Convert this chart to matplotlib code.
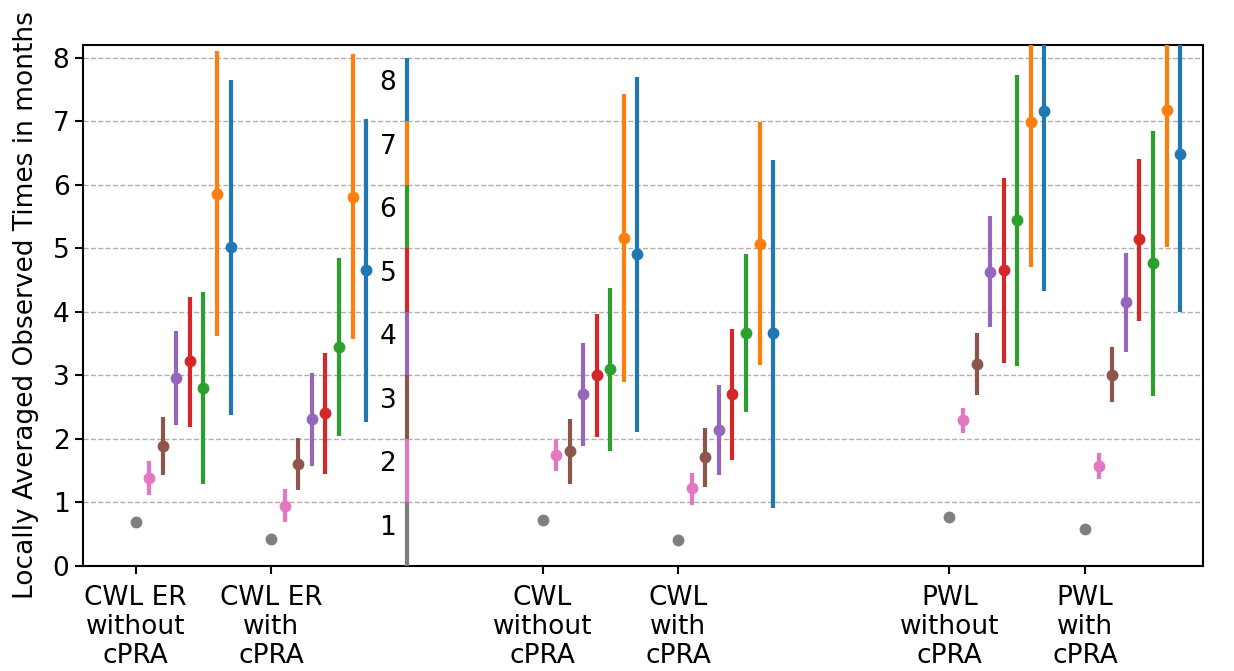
import matplotlib
matplotlib.use("Agg")
import matplotlib.pyplot as plt
import numpy as np

plt.rcParams['font.family'] = ['DejaVu Sans']

group_labels = ["CWL ER\nwithout\ncPRA", "CWL ER\nwith\ncPRA",
                "CWL\nwithout\ncPRA", "CWL\nwith\ncPRA",
                "PWL\nwithout\ncPRA", "PWL\nwith\ncPRA"]
group_pos = [0, 1, 3, 4, 6, 7]
legend_pos = 2
legend_labels = ["1", "2", "3", "4", "5", "6", "7", "8"]
colors = ["tab:gray", "tab:pink", "tab:brown", "tab:purple",
          "tab:red", "tab:green", "tab:orange", "tab:blue"]

# rows = groups, columns = series 1..8
centers = [
    [0.68, 1.38, 1.89, 2.96, 3.22, 2.80, 5.85, 5.02],
    [0.42, 0.94, 1.60, 2.31, 2.41, 3.45, 5.81, 4.65],
    [0.72, 1.74, 1.80, 2.70, 3.00, 3.09, 5.16, 4.91],
    [0.41, 1.22, 1.71, 2.13, 2.70, 3.66, 5.07, 3.66],
    [0.77, 2.29, 3.18, 4.63, 4.66, 5.44, 6.99, 7.16],
    [0.58, 1.57, 3.01, 4.15, 5.14, 4.76, 7.17, 6.48],
]
lowers = [
    [0.68, 1.12, 1.43, 2.21, 2.19, 1.28, 3.61, 2.38],
    [0.42, 0.68, 1.19, 1.57, 1.45, 2.04, 3.57, 2.27],
    [0.72, 1.49, 1.29, 1.89, 2.02, 1.81, 2.89, 2.11],
    [0.41, 0.95, 1.24, 1.42, 1.66, 2.42, 3.16, 0.91],
    [0.77, 2.09, 2.68, 3.76, 3.19, 3.15, 4.71, 4.32],
    [0.58, 1.36, 2.57, 3.36, 3.85, 2.67, 5.02, 3.99],
]
uppers = [
    [0.68, 1.65, 2.34, 3.70, 4.23, 4.31, 8.10, 7.65],
    [0.42, 1.21, 2.01, 3.04, 3.35, 4.84, 8.06, 7.03],
    [0.72, 1.99, 2.31, 3.50, 3.97, 4.37, 7.42, 7.70],
    [0.41, 1.46, 2.17, 2.84, 3.73, 4.91, 6.98, 6.39],
    [0.77, 2.49, 3.66, 5.50, 6.11, 7.72, 9.30, 10.0],
    [0.58, 1.77, 3.44, 4.92, 6.41, 6.85, 9.40, 8.95],
]
offset_step = 0.1

fig, ax = plt.subplots(figsize=(12.34, 6.71), dpi=100)
fs = 19

for g, gx in enumerate(group_pos):
    for s in range(8):
        x = gx + s * offset_step
        c = centers[g][s]
        lo = c - lowers[g][s]
        hi = uppers[g][s] - c
        ax.errorbar([x], [c], yerr=[[lo], [hi]], fmt='o', color=colors[s],
                    elinewidth=3, markersize=7.5, capsize=0, zorder=3)

# colour key in the middle
for s in range(8):
    ax.plot([legend_pos, legend_pos], [s, s + 1], color=colors[s], lw=3,
            solid_capstyle='butt', zorder=3)
    ax.text(legend_pos - 0.14, s + 0.6, legend_labels[s], ha='center', va='center',
            fontsize=fs)

ax.set_xlim(-0.39, 7.87)
ax.set_ylim(0, 8.2)
ax.set_yticks(range(0, 9))
ax.set_xticks(group_pos)
ax.set_xticklabels(group_labels, fontsize=fs, ha='center', linespacing=1.15)
ax.tick_params(axis='both', labelsize=fs, length=6, width=1.5)
ax.tick_params(axis='x', pad=8)
for sp in ax.spines.values():
    sp.set_linewidth(1.5)
ax.yaxis.grid(True, linestyle='--', color='#b0b0b0', lw=1)
ax.set_axisbelow(True)
ax.set_ylabel("Locally Averaged Observed Times in months", fontsize=fs, labelpad=10)

fig.subplots_adjust(left=0.067, right=0.975, top=0.933, bottom=0.157)
fig.savefig("out.png", dpi=100)
